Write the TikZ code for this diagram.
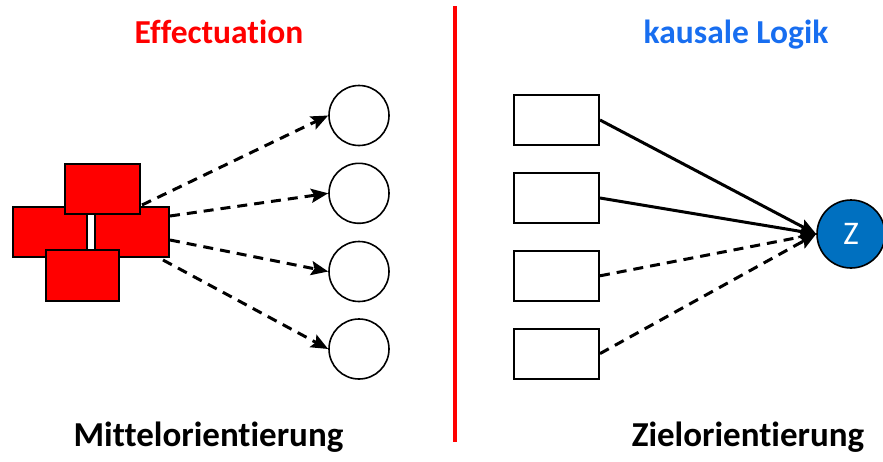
\documentclass[tikz,border=0pt]{standalone}
\usepackage{fontspec}
\setmainfont[Ligatures=NoCommon, Contextuals=NoAlternate, RawFeature={-dlig}]{Carlito}
\usetikzlibrary{arrows.meta}

\definecolor{effred}{RGB}{255,0,0}
\definecolor{logicblue}{RGB}{24,110,240}
\definecolor{goalblue}{RGB}{0,112,192}

\tikzset{
  redbox/.style={draw=black, line width=2pt, fill=effred, inner sep=0pt,
    minimum width=74pt, minimum height=50pt},
  openbox/.style={draw=black, line width=2pt, fill=white, inner sep=0pt,
    minimum width=85pt, minimum height=50pt},
  ring/.style={circle, draw=black, line width=1.6pt, fill=white, inner sep=0pt,
    minimum size=60pt},
  goal/.style={circle, draw=black, line width=1.6pt, fill=goalblue, inner sep=0pt,
    minimum size=68pt, text=white, font=\fontsize{33}{36}\selectfont},
  headline/.style={font=\bfseries\fontsize{33.5}{40}\selectfont, anchor=base},
  footline/.style={font=\bfseries\fontsize{35}{40}\selectfont, anchor=base, text=black},
  tip/.style={-{Stealth[length=17pt, width=14pt, inset=3pt]}},
  dasharrow/.style={tip, line width=3pt, dash pattern=on 10pt off 7pt},
  solidarrow/.style={tip, line width=3pt},
  divider/.style={draw=effred, line width=4pt},
}

\begin{document}
\begin{tikzpicture}[x=1pt, y=-1pt]
  \useasboundingbox (0,0) rectangle (883,461);

  % headings
  \node[headline, text=effred] (efftitle) at (219,43) {Effectuation};
  \node[headline, text=logicblue] (logtitle) at (736,43) {kausale Logik};

  % dividing line
  \coordinate (divtop) at (455,6);
  \coordinate (divbot) at (455,442);
  \draw[divider] (divtop) -- (divbot);

  % cluster of means
  \node[redbox] (mleft)   at (50,232) {};
  \node[redbox] (mright)  at (132,232) {};
  \node[redbox, minimum width=75pt] (mtop) at (102.5,189) {};
  \node[redbox, minimum width=73pt, minimum height=51pt] (mbottom) at (82.5,275.5) {};

  % possible outcomes
  \node[ring] (o1) at (359,115.5) {};
  \node[ring] (o2) at (359,193.3) {};
  \node[ring] (o3) at (359,271.5) {};
  \node[ring] (o4) at (359,349) {};

  \coordinate (s1) at (142,205);
  \coordinate (s2) at (170,216);
  \coordinate (s3) at (170,240);
  \coordinate (s4) at (163,260);
  \draw[dasharrow] (s1) -- (o1.west);
  \draw[dasharrow] (s2) -- (o2.west);
  \draw[dasharrow] (s3) -- (o3.west);
  \draw[dasharrow] (s4) -- (o4.west);

  % means chosen for a given goal
  \node[openbox] (r1) at (556.5,120) {};
  \node[openbox] (r2) at (556.5,198) {};
  \node[openbox] (r3) at (556.5,275.8) {};
  \node[openbox] (r4) at (556.5,353.6) {};

  \node[goal] (z) at (851,234) {Z};

  \draw[solidarrow] (r1.east) -- (z.west);
  \draw[solidarrow] (r2.east) -- (z.west);
  \draw[dasharrow]  (r3.east) -- (z.west);
  \draw[dasharrow]  (r4.east) -- (z.west);

  % captions
  \node[footline] (mcap) at (208.5,446) {Mittelorientierung};
  \node[footline] (zcap) at (748,446) {Zielorientierung};
\end{tikzpicture}
\end{document}
